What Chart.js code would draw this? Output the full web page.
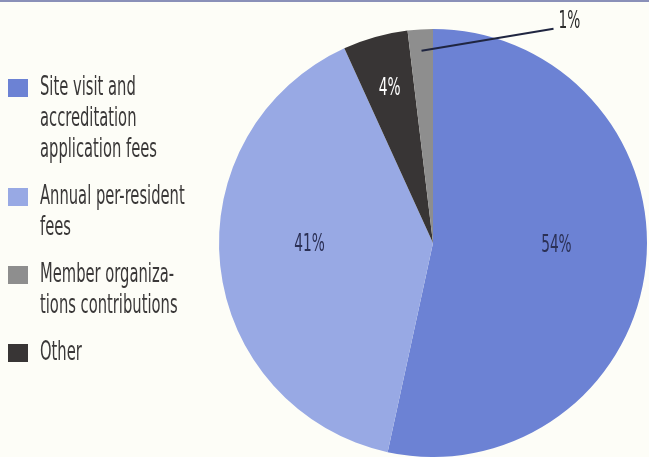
<!DOCTYPE html>
<html>
<head>
<meta charset="utf-8">
<script src="https://cdn.jsdelivr.net/npm/chart.js@4/dist/chart.umd.min.js"></script>
<style>
    html, body { margin: 0; padding: 0; background: #fdfdf7; }
    canvas { display: block; }
</style>
</head>
<body>
<canvas id="revenueChart" width="649" height="457"></canvas>
<script>
// slices go clockwise from 12 o'clock
const categories = [
    'Site visit and accreditation application fees',
    'Annual per-resident fees',
    'Other',
    'Member organizations contributions'
];
const legendLines = [
    ['Site visit and', 'accreditation', 'application fees'],
    ['Annual per-resident', 'fees'],
    ['Other'],
    ['Member organiza-', 'tions contributions']
];
const legendOrder = [0, 1, 3, 2];
const shares = [53.4, 39.8, 4.9, 1.9];          // slice sizes
const shareLabels = ['54%', '41%', '4%', '1%'];  // printed percentages
const colors = ['#6c82d4', '#98a9e4', '#383535', '#8e8e8e'];

const FONT = '"DejaVu Sans Condensed", "Liberation Sans Narrow", sans-serif';

function squeezeText(ctx, text, x, y, size, color, sx, align) {
    ctx.save();
    ctx.font = size + 'px ' + FONT;
    ctx.fillStyle = color;
    ctx.textBaseline = 'middle';
    ctx.textAlign = align || 'left';
    ctx.translate(x, y);
    ctx.scale(sx, 1);
    ctx.fillText(text, 0, 0);
    ctx.restore();
}

const pieDecor = {
    id: 'pieDecor',
    beforeDraw(chart) {
        const ctx = chart.ctx;
        ctx.save();
        ctx.fillStyle = '#8a90b8';
        ctx.fillRect(0, 0, chart.width, 2);
        ctx.restore();
    },
    afterDatasetsDraw(chart) {
        const ctx = chart.ctx;
        const arcs = chart.getDatasetMeta(0).data;
        const labelRadius = [0.58, 0.58, 0.75, 0.9];
        const labelNudge = [-11, -12, 0, 0];
        const labelColor = ['#2b3055', '#2b3055', '#ffffff', '#2b2b2b'];

        arcs.forEach((arc, i) => {
            const mid = (arc.startAngle + arc.endAngle) / 2;
            const r = arc.outerRadius * labelRadius[i];
            const x = arc.x + Math.cos(mid) * r;
            const y = arc.y + Math.sin(mid) * r;
            if (i === 3) {
                // small slice: leader line out to the right
                const ex = x + 132, ey = y - 22;
                ctx.save();
                ctx.strokeStyle = '#1f2540';
                ctx.lineWidth = 2;
                ctx.beginPath();
                ctx.moveTo(x, y);
                ctx.lineTo(ex, ey);
                ctx.stroke();
                ctx.restore();
                squeezeText(ctx, shareLabels[i], ex + 5, ey - 7, 25, labelColor[i], 0.61);
            } else {
                squeezeText(ctx, shareLabels[i], x, y + labelNudge[i], 25, labelColor[i], 0.61, 'center');
            }
        });

        // legend on the left
        let y = 88;
        legendOrder.forEach(idx => {
            ctx.save();
            ctx.fillStyle = colors[idx];
            ctx.fillRect(8, y - 9, 20, 18);
            ctx.restore();
            legendLines[idx].forEach((line, k) => {
                squeezeText(ctx, line, 40, y + k * 31, 26, '#3a3838', 0.63);
            });
            y += legendLines[idx].length * 31 + 16;
        });
    }
};

new Chart(document.getElementById('revenueChart'), {
    type: 'pie',
    data: {
        labels: categories,
        datasets: [{
            data: shares,
            backgroundColor: colors,
            borderWidth: 0
        }]
    },
    options: {
        responsive: false,
        animation: false,
        layout: {
            padding: { left: 219, right: 2, top: 29, bottom: 0 }
        },
        plugins: {
            legend: { display: false },
            tooltip: { enabled: false }
        }
    },
    plugins: [pieDecor]
});
</script>
</body>
</html>
